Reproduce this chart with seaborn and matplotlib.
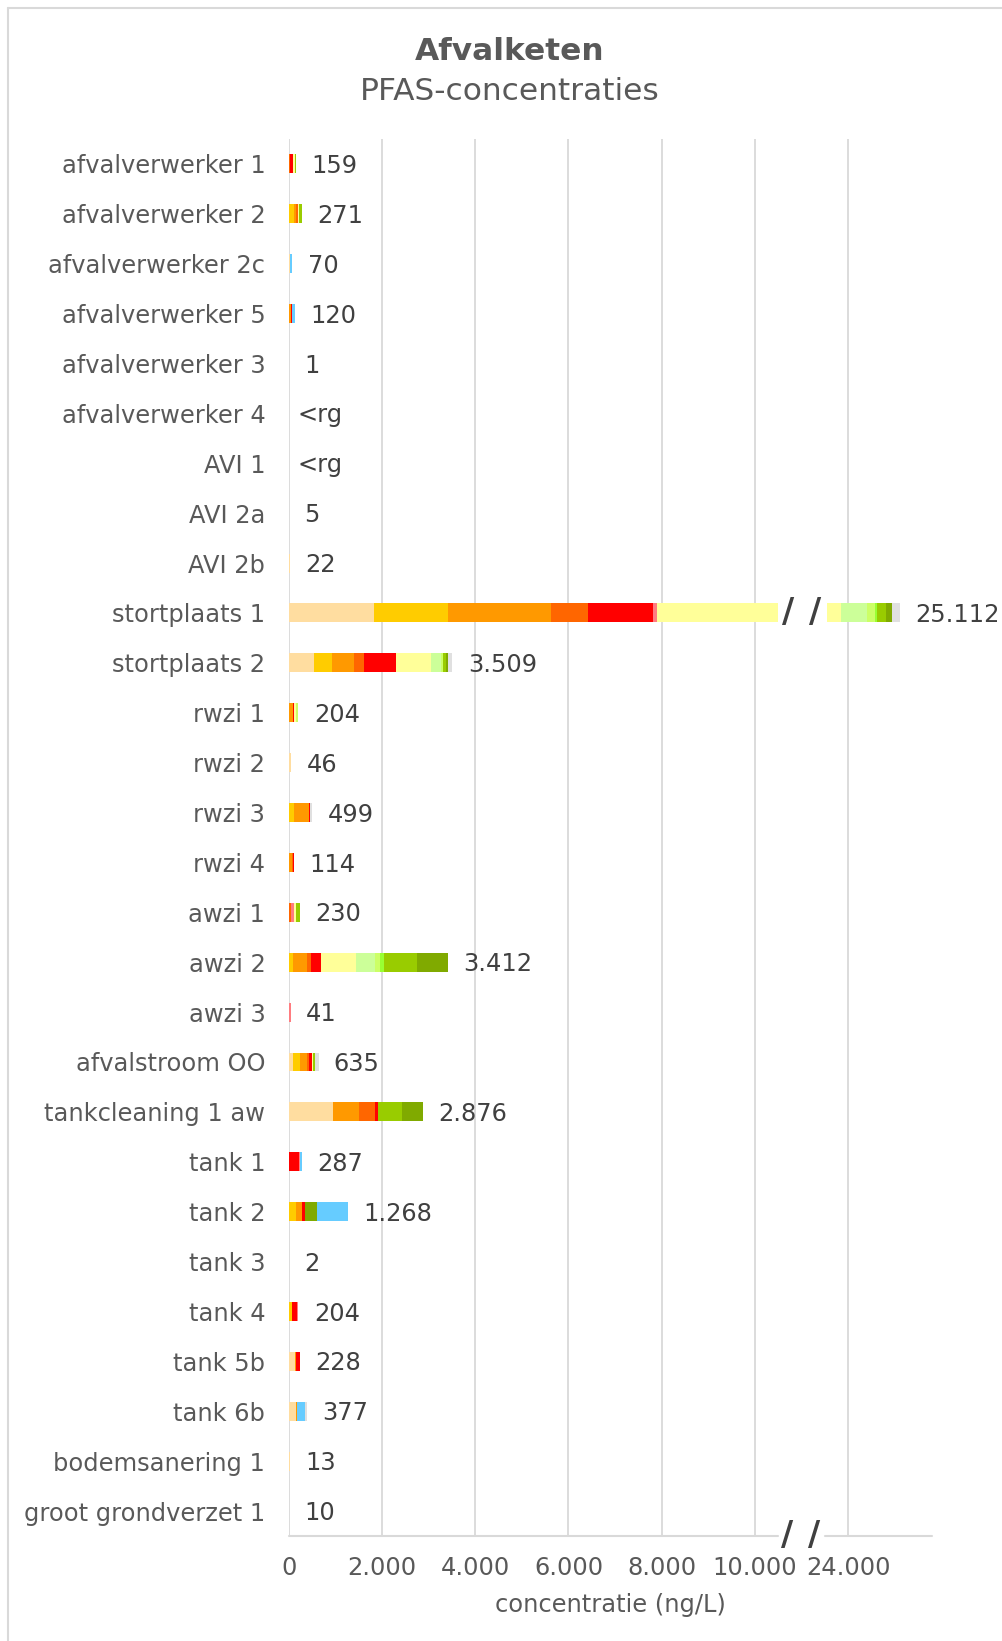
import matplotlib
matplotlib.use("Agg")
import matplotlib.pyplot as plt
from matplotlib.lines import Line2D
from matplotlib.patches import Rectangle
import matplotlib.transforms as mtransforms
import numpy as np
import pandas as pd
import seaborn as sns

# categorieen (van boven naar beneden)
categories = ["afvalverwerker 1", "afvalverwerker 2", "afvalverwerker 2c", "afvalverwerker 5",
              "afvalverwerker 3", "afvalverwerker 4", "AVI 1", "AVI 2a", "AVI 2b",
              "stortplaats 1", "stortplaats 2", "rwzi 1", "rwzi 2", "rwzi 3", "rwzi 4",
              "awzi 1", "awzi 2", "awzi 3", "afvalstroom OO", "tankcleaning 1 aw",
              "tank 1", "tank 2", "tank 3", "tank 4", "tank 5b", "tank 6b",
              "bodemsanering 1", "groot grondverzet 1"]

value_labels = ["159", "271", "70", "120", "1", "<rg", "<rg", "5", "22", "25.112", "3.509",
                "204", "46", "499", "114", "230", "3.412", "41", "635", "2.876", "287",
                "1.268", "2", "204", "228", "377", "13", "10"]

# concentraties per stofgroep (ng/L), geschat uit de figuur
peach       = [0, 0, 20, 0, 1, 0, 0, 5, 22, 1820, 540, 0, 46, 0, 0, 0, 0, 0, 80, 940, 0, 0, 2, 0, 130, 150, 13, 10]
gold        = [0, 100, 0, 0, 0, 0, 0, 0, 0, 1590, 390, 0, 0, 115, 0, 0, 80, 0, 155, 0, 0, 160, 0, 60, 0, 0, 0, 0]
orange      = [0, 60, 0, 40, 0, 0, 0, 0, 0, 2210, 470, 80, 0, 315, 60, 0, 300, 0, 145, 560, 0, 110, 0, 0, 20, 20, 0, 0]
darkorange  = [20, 30, 0, 0, 0, 0, 0, 0, 0, 800, 200, 0, 0, 0, 20, 50, 90, 0, 55, 340, 0, 0, 0, 0, 0, 0, 0, 0]
red         = [60, 0, 0, 20, 0, 0, 0, 0, 0, 1390, 700, 30, 0, 20, 34, 0, 220, 0, 52, 70, 220, 80, 0, 120, 78, 0, 0, 0]
pink        = [0, 0, 0, 0, 0, 0, 0, 0, 0, 90, 0, 0, 0, 0, 0, 60, 0, 41, 0, 0, 20, 0, 0, 24, 0, 0, 0, 0]
paleyellow  = [40, 30, 0, 10, 0, 0, 0, 0, 0, 15950, 750, 43, 0, 0, 0, 40, 750, 0, 33, 0, 0, 0, 0, 0, 0, 0, 0, 0]
lightgreen  = [0, 0, 0, 0, 0, 0, 0, 0, 0, 560, 210, 0, 0, 0, 0, 0, 410, 0, 0, 0, 0, 0, 0, 0, 0, 0, 0, 0]
lime        = [0, 0, 0, 0, 0, 0, 0, 0, 0, 170, 40, 51, 0, 0, 0, 0, 100, 0, 0, 0, 0, 0, 0, 0, 0, 0, 0, 0]
brightgreen = [0, 0, 0, 0, 0, 0, 0, 0, 0, 40, 0, 0, 0, 0, 0, 0, 100, 0, 0, 0, 0, 0, 0, 0, 0, 0, 0, 0]
yellowgreen = [39, 51, 0, 0, 0, 0, 0, 0, 0, 190, 70, 0, 0, 0, 0, 80, 700, 0, 40, 520, 0, 0, 0, 0, 0, 0, 0, 0]
olive       = [0, 0, 0, 0, 0, 0, 0, 0, 0, 130, 50, 0, 0, 0, 0, 0, 662, 0, 0, 446, 0, 260, 0, 0, 0, 0, 0, 0]
lightblue   = [0, 0, 50, 50, 0, 0, 0, 0, 0, 0, 0, 0, 0, 0, 0, 0, 0, 0, 0, 0, 47, 658, 0, 0, 0, 164, 0, 0]
grey        = [0, 0, 0, 0, 0, 0, 0, 0, 0, 172, 89, 0, 0, 49, 0, 0, 0, 0, 75, 0, 0, 0, 0, 0, 0, 43, 0, 0]

series = [peach, gold, orange, darkorange, red, pink, paleyellow, lightgreen, lime,
          brightgreen, yellowgreen, olive, lightblue, grey]
colors = ["#FFDDA0", "#FFCC00", "#FF9900", "#FF6600", "#FF0000", "#FF7C80", "#FFFF99",
          "#CCFF99", "#CCFF66", "#99FF33", "#99CC00", "#80AA00", "#66CCFF", "#E0E0E0"]

# asbreuk: 10.500 .. 23.550 wordt weggelaten (24.000 komt op 12.000)
BREAK_LO, BREAK_HI, SHIFT = 10500, 23550, 12000

def to_display(v):
    v = np.asarray(v, dtype=float)
    return np.where(v >= BREAK_HI, v - SHIFT, np.minimum(v, BREAK_LO))

sns.set_style("white")
plt.rcParams["font.family"] = ["DejaVu Sans"]

fig, ax = plt.subplots(figsize=(10.02, 16.41), dpi=100)
fig.subplots_adjust(left=0.2884, right=0.930, top=0.9153, bottom=0.064)

cum = np.cumsum(np.array(series, dtype=float), axis=0)

# gestapelde balken: cumulatieve lagen van achter naar voren
for k in range(len(series) - 1, -1, -1):
    layer = pd.DataFrame({"cat": categories, "x": to_display(cum[k])})
    sns.barplot(data=layer, x="x", y="cat", order=categories, orient="h", color=colors[k],
                saturation=1, width=0.38, linewidth=0, errorbar=None, ax=ax, zorder=2)

# witte opening in de balk van stortplaats 1
row = categories.index("stortplaats 1")
ax.add_patch(Rectangle((BREAK_LO, row - 0.25), BREAK_HI - SHIFT - BREAK_LO, 0.5,
                       facecolor="white", edgecolor="none", zorder=3))
for xs in (10720, 11300):
    ax.text(xs, row, "/", ha="center", va="center", fontsize=24, fontweight="bold",
            color="#404040", zorder=4)

# waardelabels
totals = to_display(cum[-1])
for i, (t, lab) in enumerate(zip(totals, value_labels)):
    off = 6 if lab.startswith("<") else 11
    ax.annotate(lab, xy=(t, i), xytext=(off, -1.5), textcoords="offset points",
                va="center", ha="left", fontsize=17.4, color="#404040")

ax.set_xlim(0, 13800)
ax.set_ylim(27.5, -0.5)
ticks = [0, 2000, 4000, 6000, 8000, 10000, 12000]
ax.set_xticks(ticks)
ax.set_xticklabels(["0", "2.000", "4.000", "6.000", "8.000", "10.000", "24.000"])
ax.grid(axis="x", color="#D9D9D9", linewidth=1.3)
ax.grid(axis="y", visible=False)
ax.set_axisbelow(True)
for s in ax.spines.values():
    s.set_visible(False)

# horizontale as met breuk
ax.plot([0, 10505], [27.5, 27.5], color="#D9D9D9", lw=1.5, clip_on=False, zorder=1)
ax.plot([11515, 13800], [27.5, 27.5], color="#D9D9D9", lw=1.5, clip_on=False, zorder=1)
trans = mtransforms.blended_transform_factory(ax.transData, ax.transAxes)
for xs in (10700, 11280):
    ax.text(xs, 0, "/", transform=trans, ha="center", va="center", fontsize=24,
            fontweight="bold", color="#404040", clip_on=False)

ax.tick_params(axis="x", length=0, pad=14.5, labelsize=17.4, colors="#595959")
ax.tick_params(axis="y", length=0, pad=17, labelsize=17.4, colors="#595959")
ax.set_ylabel("")
ax.set_xlabel("concentratie (ng/L)", fontsize=17.4, color="#595959", labelpad=9.5)

fig.text(0.509, 0.9687, "Afvalketen", ha="center", va="center", fontsize=22.5,
         fontweight="bold", color="#595959")
fig.text(0.509, 0.9445, "PFAS-concentraties", ha="center", va="center", fontsize=22.5,
         color="#595959")

# rand van het grafiekgebied
fig.add_artist(Line2D([8 / 1002, 1], [1 - 8 / 1641, 1 - 8 / 1641], color="#D9D9D9", lw=1.5))
fig.add_artist(Line2D([8 / 1002, 8 / 1002], [0, 1 - 8 / 1641], color="#D9D9D9", lw=1.5))

fig.savefig("out.png", dpi=100)
